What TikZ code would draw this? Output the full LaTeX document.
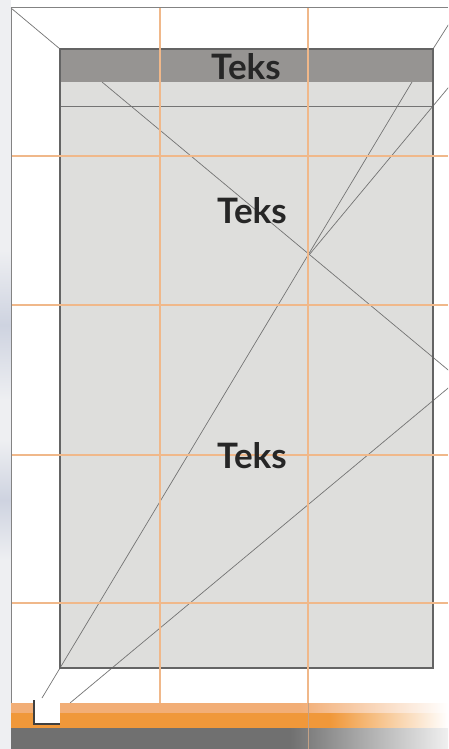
\documentclass[tikz,border=0pt]{standalone}
\usepackage{fontspec}
\setmainfont{Lato}
\definecolor{PageGray}{RGB}{222,222,220}
\definecolor{HeadGray}{RGB}{150,148,146}
\definecolor{GridOrange}{RGB}{240,184,138}
\definecolor{BarOrange}{RGB}{240,152,58}
\definecolor{BarOrangeLight}{RGB}{242,174,118}
\definecolor{BarGray}{RGB}{112,112,112}
\definecolor{LineGray}{RGB}{100,100,100}
\definecolor{SideGray}{RGB}{238,239,242}
\definecolor{SideBlue}{RGB}{206,211,224}
\usetikzlibrary{positioning,calc}

\begin{document}
\begin{tikzpicture}[x=1pt, y=-1pt,
    teks/.style={font=\fontsize{35}{40}\selectfont\bfseries, text=black!85,
                 anchor=base, inner sep=0pt},
    bingkai/.style={draw=LineGray, line width=1.2pt},
    bantu/.style={draw=LineGray!90, line width=0.7pt},
    kisi/.style={draw=GridOrange, line width=1.1pt}
  ]
    \clip (0,0) rectangle (448,749);
    \fill[white] (0,0) rectangle (448,749);
    % latar kiri
    \fill[SideGray] (0,0) rectangle (11,749);
    \shade[top color=SideGray, bottom color=SideGray, middle color=SideBlue]
       (0,250) rectangle (11,400);
    \shade[top color=SideGray, bottom color=SideGray, middle color=SideBlue]
       (0,440) rectangle (11,560);

    \coordinate (luarNW) at (11,8);
    \coordinate (luarNE) at (459,8);
    \coordinate (luarE)  at (459,379);
    \coordinate (pgNW) at (60,49);
    \coordinate (pgNE) at (433,49);
    \coordinate (pgSW) at (60,668);
    \coordinate (pgSE) at (433,668);
    \coordinate (hdSW) at (60,82);
    \coordinate (hdSE) at (433,82);
    \coordinate (potong) at (309,255);

    % halaman
    \fill[PageGray] (pgNW) rectangle (pgSE);
    \draw[bantu] (hdSW |- 0,106) -- (hdSE |- 0,106);

    % garis bantu diagonal
    \draw[bantu] (luarNW) -- (pgNW);
    \draw[bantu] (pgNE) -- (luarNE);
    \draw[bantu] (102,82) -- (luarE);
    \draw[bantu] (70,703) -- (luarE);
    \draw[bantu] (42,698) -- (412,82);
    \draw[bantu] (potong) -- ($(potong)!2!(448,88)$);

    \fill[HeadGray] (pgNW) rectangle (hdSE);
    \draw[bingkai] (pgNW) rectangle (pgSE);

    % kisi oranye
    \foreach \gy in {156,305,455,603}
      \draw[kisi] (11,\gy) -- (448,\gy);
    \draw[kisi] (160,8) -- (160,703);
    \draw[kisi] (308,8) -- (308,749);

    \draw[draw=LineGray!80, line width=1pt] (448,8) -- (luarNW) -- (11,703);

    % teks
    \node[teks] (judul) at (246,80)  {Teks};
    \node[teks] (teksA) at (252,223) {Teks};
    \node[teks] (teksB) at (252,468) {Teks};

    % pita bawah
    \fill[BarOrangeLight] (11,703) rectangle (300,713);
    \shade[left color=BarOrangeLight, right color=white] (300,703) rectangle (448,713);
    \fill[BarOrange] (11,713) rectangle (330,728);
    \shade[left color=BarOrange, right color=white] (330,713) rectangle (448,728);
    \fill[BarGray] (11,728) rectangle (290,749);
    \shade[left color=BarGray, right color=gray!12] (290,728) rectangle (448,749);
    \draw[draw=GridOrange!60!gray] (308,703) -- (308,749);

    % ikon halaman
    \fill[white] (34,703) rectangle (60,724);
    \draw[draw=black!75, line width=1.2pt] (34,700) -- (34,724) -- (60,724);
\end{tikzpicture}
\end{document}
